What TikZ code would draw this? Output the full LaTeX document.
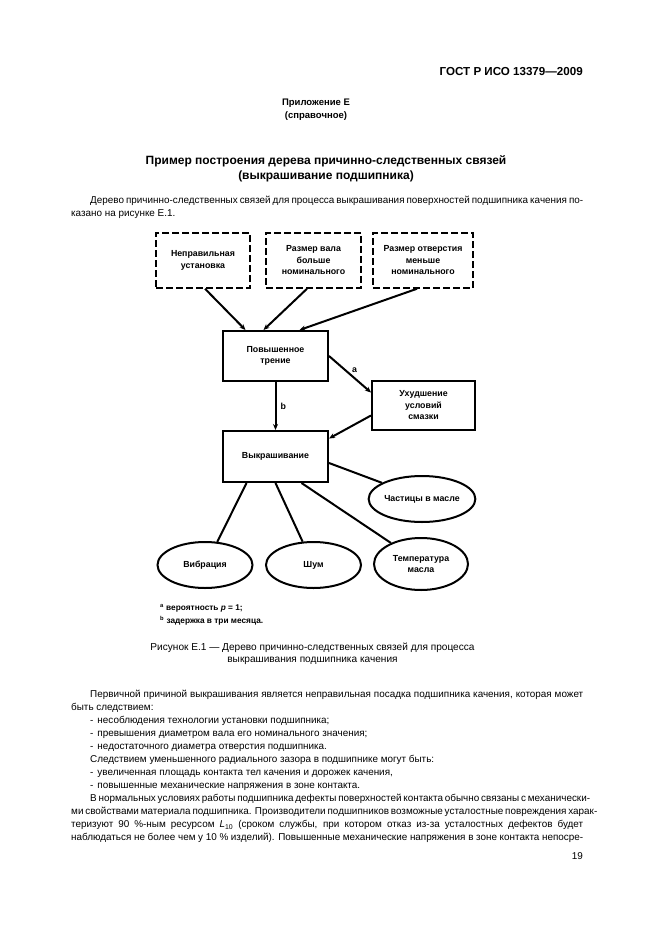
\documentclass[tikz,border=0pt]{standalone}
\usepackage{fontspec}
\setmainfont{Liberation Sans}
\usetikzlibrary{shapes.geometric,arrows.meta,calc}
\begin{document}
\begin{tikzpicture}[x=1pt,y=-1pt,
  dbox/.style={draw,line width=1.5pt,dash pattern=on 7pt off 3pt,minimum width=#1,minimum height=55pt,inner sep=1pt,align=center,font=\fontsize{8.8}{11.5}\selectfont\bfseries},
  sbox/.style={draw,line width=2pt,minimum height=50pt,inner sep=1pt,align=center,font=\fontsize{8.8}{11.5}\selectfont\bfseries},
  ell/.style={draw,ellipse,line width=2pt,inner sep=0pt,align=center,font=\fontsize{8.8}{11.5}\selectfont\bfseries},
  arr/.style={line width=2pt,-{Stealth[length=6pt,width=5pt]}},
  lnk/.style={line width=2pt},
  body/.style={anchor=base west,inner sep=0pt,font=\fontsize{9.9}{13}\selectfont},
  lab/.style={inner sep=0pt,font=\fontsize{8.8}{10}\selectfont\bfseries}
]
\useasboundingbox (0,0) rectangle (661,936);
\fill[white] (0,0) rectangle (661,936);

% header
\node[anchor=base east,inner sep=0pt,font=\fontsize{11.6}{14}\selectfont\bfseries] (hdr) at (583,76) {ГОСТ Р ИСО 13379—2009};
\node[inner sep=0pt,align=center,font=\fontsize{9.5}{13}\selectfont\bfseries] (app) at (316,110) {Приложение Е\\(справочное)};
\node[inner sep=0pt,align=center,font=\fontsize{12}{15}\selectfont\bfseries] (ttl) at (326,168.5) {Пример построения дерева причинно-следственных связей\\(выкрашивание подшипника)};

\node[body] (p1) at (90,203.5) {\makebox[493pt][s]{Дерево причинно-следственных связей для процесса выкрашивания поверхностей подшипника качения по-}};
\node[body] (p2) at (71,216.5) {казано на рисунке Е.1.};

% diagram
\node[dbox=94pt] (b1) at (203,260.5) {Неправильная\\установка};
\node[dbox=95pt] (b2) at (313.5,260.5) {Размер вала\\больше\\номинального};
\node[dbox=100pt] (b3) at (423,260.5) {Размер отверстия\\меньше\\номинального};

\node[sbox,minimum width=105pt] (fr) at (275.5,356) {Повышенное\\трение};
\node[sbox,minimum width=105pt,minimum height=51pt] (pit) at (275.5,456.5) {Выкрашивание};
\node[sbox,minimum width=103pt,minimum height=49pt] (lub) at (423.5,405.5) {Ухудшение\\условий\\смазки};

\node[ell,minimum width=94pt,minimum height=46pt] (part) at (422,499) {Частицы в масле};
\node[ell,minimum width=95pt,minimum height=46pt] (vib) at (205,565) {Вибрация};
\node[ell,minimum width=95pt,minimum height=46pt] (noise) at (313.5,565) {Шум};
\node[ell,minimum width=94pt,minimum height=52pt] (temp) at (421,564) {Температура\\масла};

\draw[arr] ([xshift=2pt]b1.south) -- ([xshift=-30pt]fr.north);
\draw[arr] ([xshift=-6.5pt]b2.south) -- ([xshift=-12pt]fr.north);
\draw[arr] ([xshift=-6pt]b3.south) -- ([xshift=24pt]fr.north);
\draw[arr] (fr.east) -- ([yshift=13pt]lub.west) node[lab,pos=0.5,anchor=south west,xshift=1pt,yshift=1pt] (la) {a};
\draw[arr] (fr.south) -- (pit.north) node[lab,pos=0.5,anchor=west,xshift=4pt] (lb) {b};
\draw[arr] ([yshift=-10pt]lub.west) -- ([yshift=18pt]pit.east);
\draw[lnk] ([yshift=-6.5pt]pit.east) -- (part.158);
\draw[lnk] ([xshift=-29pt]pit.south) -- (vib.62);
\draw[lnk] (pit.south) -- (noise.115);
\draw[lnk] ([xshift=26pt]pit.south) -- (temp.145);

% footnotes
\node[anchor=base west,inner sep=0pt,font=\fontsize{8.3}{10}\selectfont\bfseries] (fa) at (160,610.5) {\textsuperscript{a} вероятность \textit{p} = 1;};
\node[anchor=base west,inner sep=0pt,font=\fontsize{8.3}{10}\selectfont\bfseries] (fb) at (160,623.5) {\textsuperscript{b} задержка в три месяца.};

\node[inner sep=0pt,align=center,font=\fontsize{10.1}{12}\selectfont] (cap) at (312.5,654) {Рисунок Е.1 — Дерево причинно-следственных связей для процесса\\выкрашивания подшипника качения};

% text below
\node[body] (t1) at (90,697.5) {\makebox[493pt][s]{Первичной причиной выкрашивания является неправильная посадка подшипника качения, которая может}};
\node[body] (t2) at (71,710.5) {быть следствием:};
\node[body] (t3) at (90,723.5) {-\hspace{4pt}несоблюдения технологии установки подшипника;};
\node[body] (t4) at (90,736.5) {-\hspace{4pt}превышения диаметром вала его номинального значения;};
\node[body] (t5) at (90,749.5) {-\hspace{4pt}недостаточного диаметра отверстия подшипника.};
\node[body] (t6) at (90,762.5) {Следствием уменьшенного радиального зазора в подшипнике могут быть:};
\node[body] (t7) at (90,775.5) {-\hspace{4pt}увеличенная площадь контакта тел качения и дорожек качения,};
\node[body] (t8) at (90,788.5) {-\hspace{4pt}повышенные механические напряжения в зоне контакта.};
\node[body] (t9) at (90,801.5) {\makebox[493pt][s]{В нормальных условиях работы подшипника дефекты поверхностей контакта обычно связаны с механически-}};
\node[body] (t10) at (71,814.5) {\makebox[512pt][s]{ми свойствами материала подшипника. Производители подшипников возможные усталостные повреждения харак-}};
\node[body] (t11) at (71,827.5) {\makebox[512pt][s]{теризуют 90 \%-ным ресурсом \textit{L}\textsubscript{10} (сроком службы, при котором отказ из-за усталостных дефектов будет}};
\node[body] (t12) at (71,840.5) {\makebox[512pt][s]{наблюдаться не более чем у 10 \% изделий). Повышенные механические напряжения в зоне контакта непосре-}};
\node[anchor=base east,inner sep=0pt,font=\fontsize{9.9}{12}\selectfont] (pg) at (583,859.5) {19};
\end{tikzpicture}
\end{document}
